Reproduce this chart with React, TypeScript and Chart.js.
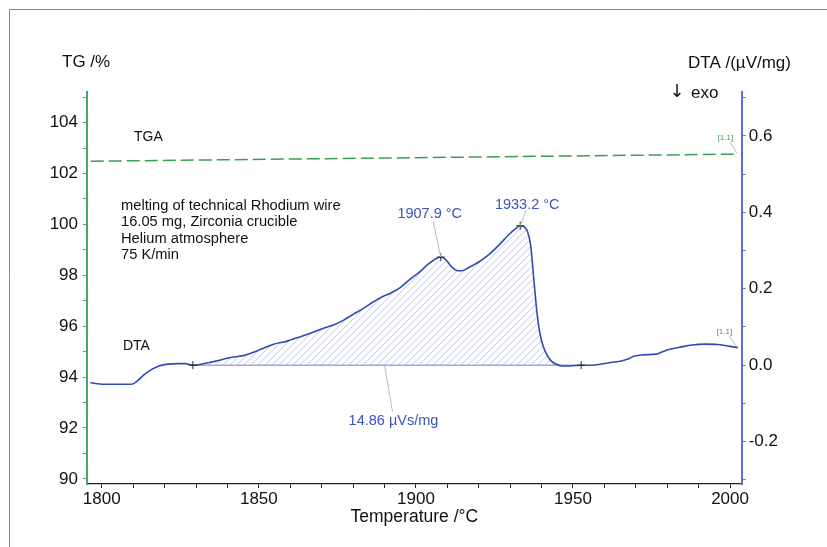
import { useEffect, useRef } from 'react';
import { Chart, registerables } from 'chart.js';

Chart.register(...registerables);

const FONT = '"Liberation Sans", Arial, "DejaVu Sans", sans-serif';

// ---- data ----
const DTA_TEMPS = [
  1796.4, 1798, 1800, 1805, 1809.5, 1811.5, 1813.5, 1815.5, 1818, 1820.5, 1824, 1826.5, 1829,
  1832, 1836, 1841, 1845, 1848, 1851, 1854.7, 1859, 1863, 1867.5, 1871, 1874, 1877, 1880,
  1883.5, 1886.5, 1889, 1892, 1895, 1898, 1901, 1904, 1906.5, 1907.9, 1909.5, 1911.3, 1913,
  1914.5, 1916.7, 1920, 1923, 1926, 1929.4, 1931.5, 1933.2, 1934.5, 1935.5, 1936.5, 1937.5,
  1938.5, 1939.5, 1940.5, 1941.5, 1943, 1944.5, 1946.5, 1949, 1952.6, 1956, 1959, 1962,
  1965.4, 1967.5, 1969.6, 1972.5, 1976.5, 1978.5, 1980.5, 1984, 1988, 1992, 1996, 1999.3,
  2001, 2002.5,
];
const DTA_VALUES = [
  -0.046, -0.048, -0.05, -0.05, -0.05, -0.04, -0.025, -0.013, -0.003, 0.002, 0.004, 0.004, 0.0,
  0.003, 0.01, 0.02, 0.025, 0.033, 0.043, 0.055, 0.063, 0.074, 0.087, 0.098, 0.106, 0.118, 0.133,
  0.15, 0.166, 0.178, 0.189, 0.203, 0.224, 0.243, 0.265, 0.279, 0.283, 0.276, 0.258, 0.248,
  0.247, 0.255, 0.27, 0.288, 0.311, 0.34, 0.356, 0.365, 0.362, 0.35, 0.315, 0.228,
  0.14, 0.082, 0.05, 0.03, 0.012, 0.003, -0.002, -0.002, 0.0, 0.0, 0.003, 0.007,
  0.011, 0.016, 0.024, 0.027, 0.029, 0.035, 0.041, 0.047, 0.053, 0.055, 0.054, 0.05,
  0.048, 0.046,
];
const TGA_TEMPS = [1796.5, 1900, 2002.5];
const TGA_VALUES = [102.48, 102.62, 102.76];

const BASELINE_TEMPS = [1829, 1952.6];
const BASELINE_VALUES = [0, 0];

const PEAK_TEMPS = [1907.9, 1933.2];
const PEAK_LABELS = ['1907.9 °C', '1933.2 °C'];
const AREA_LABEL = '14.86 µVs/mg';
const AREA_LABEL_TEMP = 1890;

const NOTE_LINES = [
  'melting of technical Rhodium wire',
  '16.05 mg, Zirconia crucible',
  'Helium atmosphere',
  '75 K/min',
];

const X_MAJOR_TICKS = [1800, 1850, 1900, 1950, 2000];
const X_MINOR_TICKS = [
  1810, 1820, 1830, 1840, 1860, 1870, 1880, 1890, 1910, 1920, 1930, 1940, 1960, 1970, 1980, 1990,
];
const TG_MAJOR_TICKS = [90, 92, 94, 96, 98, 100, 102, 104];
const TG_MINOR_TICKS = [91, 93, 95, 97, 99, 101, 103, 105];
const DTA_MAJOR_TICKS = [-0.2, 0.0, 0.2, 0.4, 0.6];
const DTA_MINOR_TICKS = [-0.3, -0.1, 0.1, 0.3, 0.5, 0.7];

const GREEN = '#3a9d55';
const GREEN_AXIS = '#46a862';
const BLUE = '#2f4cb0';
const BLUE_AXIS = '#5a6fcb';
const BLUE_TEXT = '#3a54b6';

function isMajor(list: number[], v: number) {
  return list.some((m) => Math.abs(m - v) < 1e-6);
}

function setTicks(major: number[], minor: number[]) {
  return (scale: any) => {
    scale.ticks = [...major, ...minor].sort((a, b) => a - b).map((v) => ({ value: v }));
  };
}

function valueAt(t: number) {
  const i = DTA_TEMPS.findIndex((x) => Math.abs(x - t) < 1e-6);
  return DTA_VALUES[i];
}

const annotationsPlugin = {
  id: 'dtaAnnotations',
  afterDraw(chart: any) {
    const { ctx, scales } = chart;
    const xs = scales.x;
    const yD = scales.yDTA;
    const yT = scales.yTG;
    ctx.save();

    // outer frame
    ctx.strokeStyle = '#8a8a8a';
    ctx.lineWidth = 1;
    ctx.beginPath();
    ctx.moveTo(9.5, 547);
    ctx.lineTo(9.5, 9.5);
    ctx.lineTo(827, 9.5);
    ctx.stroke();

    ctx.textBaseline = 'middle';
    ctx.textAlign = 'left';
    ctx.fillStyle = '#111';
    ctx.font = `17px ${FONT}`;
    ctx.fillText('TG /%', 62, 62);
    ctx.fillText('DTA /(µV/mg)', 688, 63);
    ctx.fillText('exo', 691, 93);
    ctx.font = `18px "DejaVu Sans", sans-serif`;
    ctx.fillText('↓', 669.5, 92.5);

    ctx.font = `14px ${FONT}`;
    ctx.fillText('TGA', 134, 137.5);
    ctx.fillText('DTA', 123, 346);

    ctx.font = `14.7px ${FONT}`;
    NOTE_LINES.forEach((line, i) => {
      ctx.fillText(line, 121, 206 + i * 16.4);
    });

    // peak labels
    ctx.font = `14.5px ${FONT}`;
    ctx.textAlign = 'center';
    const offsets = [
      { lx: -11, ly: -43, ax: -7.5, ay: -35.5 },
      { lx: 7, ly: -21, ax: 6, ay: -16 },
    ];
    PEAK_TEMPS.forEach((t, i) => {
      const px = xs.getPixelForValue(t);
      const py = yD.getPixelForValue(valueAt(t));
      const o = offsets[i];
      ctx.strokeStyle = '#b3bade';
      ctx.lineWidth = 1;
      ctx.beginPath();
      ctx.moveTo(px + o.ax, py + o.ay);
      ctx.lineTo(px, py);
      ctx.stroke();
      ctx.fillStyle = BLUE_TEXT;
      ctx.fillText(PEAK_LABELS[i], px + o.lx, py + o.ly);
    });

    // area label
    const ax = xs.getPixelForValue(AREA_LABEL_TEMP);
    const ay = yD.getPixelForValue(0);
    ctx.strokeStyle = '#b3bade';
    ctx.beginPath();
    ctx.moveTo(ax, ay);
    ctx.lineTo(ax + 8, ay + 46.5);
    ctx.stroke();
    ctx.fillStyle = BLUE_TEXT;
    ctx.fillText(AREA_LABEL, ax + 9, ay + 55.5);

    // [1.1] tags
    ctx.font = `8px ${FONT}`;
    const tgEndX = xs.getPixelForValue(TGA_TEMPS[TGA_TEMPS.length - 1]);
    const tgEndY = yT.getPixelForValue(TGA_VALUES[TGA_VALUES.length - 1]);
    ctx.strokeStyle = '#b8b8b8';
    ctx.beginPath();
    ctx.moveTo(tgEndX - 8, tgEndY - 12);
    ctx.lineTo(tgEndX - 1, tgEndY - 1);
    ctx.stroke();
    ctx.fillStyle = GREEN;
    ctx.fillText('[1.1]', tgEndX - 12.5, tgEndY - 16.5);

    const dEndX = xs.getPixelForValue(DTA_TEMPS[DTA_TEMPS.length - 1]);
    const dEndY = yD.getPixelForValue(DTA_VALUES[DTA_VALUES.length - 1]);
    ctx.strokeStyle = '#b3bade';
    ctx.beginPath();
    ctx.moveTo(dEndX - 9, dEndY - 12);
    ctx.lineTo(dEndX - 1, dEndY - 1);
    ctx.stroke();
    ctx.fillStyle = '#5a70c8';
    ctx.fillText('[1.1]', dEndX - 13.5, dEndY - 15.5);

    ctx.restore();
  },
};

export default function App() {
  const ref = useRef<HTMLCanvasElement>(null);

  useEffect(() => {
    const canvas = ref.current;
    if (!canvas) return;

    // hatch pattern
    const tile = document.createElement('canvas');
    tile.width = 7;
    tile.height = 7;
    const g = tile.getContext('2d')!;
    g.strokeStyle = '#c3c9ec';
    g.lineWidth = 1;
    g.beginPath();
    g.moveTo(0, 7);
    g.lineTo(7, 0);
    g.moveTo(-1, 1);
    g.lineTo(1, -1);
    g.moveTo(6, 8);
    g.lineTo(8, 6);
    g.stroke();
    const pattern = canvas.getContext('2d')!.createPattern(tile, 'repeat');

    const dtaPoints = DTA_TEMPS.map((t, i) => ({ x: t, y: DTA_VALUES[i] }));
    const areaPoints = dtaPoints.filter(
      (p) => p.x >= BASELINE_TEMPS[0] - 1e-6 && p.x <= BASELINE_TEMPS[1] + 1e-6
    );
    const markerPoints = [
      { x: BASELINE_TEMPS[0], y: BASELINE_VALUES[0] },
      ...PEAK_TEMPS.map((t) => ({ x: t, y: valueAt(t) })),
      { x: BASELINE_TEMPS[1], y: BASELINE_VALUES[1] },
    ];

    const tickFont = { family: FONT, size: 17 };

    const chart = new Chart(canvas, {
      type: 'line',
      data: {
        datasets: [
          {
            label: 'markers',
            data: markerPoints,
            yAxisID: 'yDTA',
            showLine: false,
            pointStyle: 'cross',
            pointRadius: 4,
            pointBorderColor: '#2a2a2a',
            pointBorderWidth: 1,
            order: 0,
          },
          {
            label: 'DTA',
            data: dtaPoints,
            yAxisID: 'yDTA',
            borderColor: BLUE,
            borderWidth: 1.6,
            pointRadius: 0,
            cubicInterpolationMode: 'monotone',
            fill: false,
            order: 1,
          },
          {
            label: 'TGA',
            data: TGA_TEMPS.map((t, i) => ({ x: t, y: TGA_VALUES[i] })),
            yAxisID: 'yTG',
            borderColor: GREEN,
            borderWidth: 1.5,
            borderDash: [13, 5],
            pointRadius: 0,
            fill: false,
            order: 2,
          },
          {
            label: 'baseline',
            data: BASELINE_TEMPS.map((t, i) => ({ x: t, y: BASELINE_VALUES[i] })),
            yAxisID: 'yDTA',
            borderColor: '#9ea8de',
            borderWidth: 1.5,
            pointRadius: 0,
            fill: false,
            order: 3,
          },
          {
            label: 'area',
            data: areaPoints,
            yAxisID: 'yDTA',
            borderWidth: 0,
            borderColor: 'rgba(0,0,0,0)',
            backgroundColor: pattern as any,
            pointRadius: 0,
            cubicInterpolationMode: 'monotone',
            fill: { value: 0 },
            order: 4,
          },
        ],
      },
      options: {
        responsive: false,
        animation: false,
        events: [],
        layout: { padding: { top: 92, left: 0, right: 0, bottom: 0 } },
        plugins: {
          legend: { display: false },
          tooltip: { enabled: false },
        },
        scales: {
          x: {
            type: 'linear',
            position: 'bottom',
            min: 1795.3,
            max: 2003.7,
            afterBuildTicks: setTicks(X_MAJOR_TICKS, X_MINOR_TICKS),
            afterFit: (s: any) => {
              s.height = 63;
            },
            ticks: {
              autoSkip: false,
              maxRotation: 0,
              padding: 1,
              color: '#111',
              font: tickFont,
              callback: (v: any) => (isMajor(X_MAJOR_TICKS, Number(v)) ? String(v) : ''),
            },
            grid: { drawOnChartArea: false, drawTicks: true, tickLength: 4, color: '#222' },
            border: { display: true, color: '#222', width: 1.2 },
            title: {
              display: true,
              text: 'Temperature /°C',
              color: '#111',
              font: { family: FONT, size: 17.5 },
              padding: { top: 0, bottom: 19.5 },
            },
          },
          yTG: {
            type: 'linear',
            position: 'left',
            min: 89.8,
            max: 105.2,
            afterBuildTicks: setTicks(TG_MAJOR_TICKS, TG_MINOR_TICKS),
            afterFit: (s: any) => {
              s.width = 87;
            },
            ticks: {
              autoSkip: false,
              padding: 5,
              color: '#111',
              font: tickFont,
              callback: (v: any) => (isMajor(TG_MAJOR_TICKS, Number(v)) ? String(v) : ''),
            },
            grid: { drawOnChartArea: false, drawTicks: true, tickLength: 4, color: GREEN_AXIS },
            border: { display: true, color: GREEN_AXIS, width: 2 },
          },
          yDTA: {
            type: 'linear',
            position: 'right',
            min: -0.311,
            max: 0.715,
            afterBuildTicks: setTicks(DTA_MAJOR_TICKS, DTA_MINOR_TICKS),
            afterFit: (s: any) => {
              s.width = 85.3;
            },
            ticks: {
              autoSkip: false,
              padding: 3,
              color: '#111',
              font: tickFont,
              callback: (v: any) =>
                isMajor(DTA_MAJOR_TICKS, Number(v)) ? Number(v).toFixed(1) : '',
            },
            grid: { drawOnChartArea: false, drawTicks: true, tickLength: 4, color: BLUE_AXIS },
            border: { display: true, color: BLUE_AXIS, width: 2 },
          },
        },
      },
      plugins: [annotationsPlugin],
    } as any);

    return () => chart.destroy();
  }, []);

  return (
    <div
      style={{
        position: 'fixed',
        left: 0,
        top: 0,
        width: 827,
        height: 547,
        background: '#fff',
      }}
    >
      <canvas ref={ref} width={827} height={547} style={{ display: 'block', width: 827, height: 547 }} />
    </div>
  );
}
